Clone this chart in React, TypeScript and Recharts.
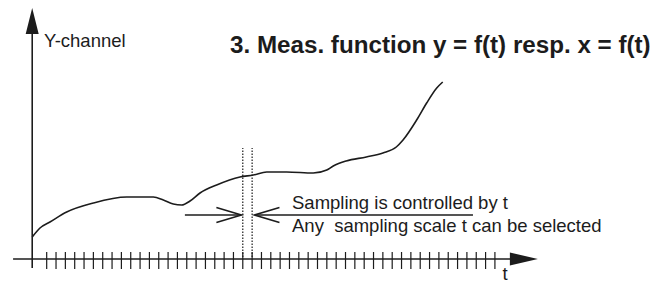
import React from 'react';
import {
    LineChart,
    Line,
    XAxis,
    YAxis,
    ReferenceLine,
    ReferenceDot,
    Customized,
} from 'recharts';

// t in sampling-step units, y in "height above the t axis"
const CURVE_T = [-1.55, -0.72, 0.35, 2.14, 4.99, 8.57, 11.42, 12.49, 13.56, 14.46, 15.35, 16.42, 18.2, 20.7, 22.12, 23.56, 25.7, 28.55, 29.99, 30.69, 32.08, 34.23, 36.01, 37.44, 38.16, 39.62, 40.69, 41.77, 42.41];
const CURVE_Y = [22, 31, 37, 47, 56, 62, 62, 59, 55, 54, 58, 66, 74, 82, 84, 87, 87, 86, 89, 93, 98, 102, 106, 112, 119, 139, 156, 171, 177];

const SAMPLE_TICKS = Array.from({ length: 49 }, (_, i) => i);
const T_DOMAIN = [-5, 66];
const Y_DOMAIN = [0, 259];

const Y_AXIS_T = -1.55;
const Y_AXIS_RANGE = [-9, 225];
const Y_ARROW_TIP = 251;
const T_AXIS_RANGE = [-3.6, 50];
const T_ARROW_TIP = 52.6;

const WINDOW_T = [21, 22];
const WINDOW_Y = [2, 111];
const ARROW_Y = 44;
const LEFT_ARROW = [14.8, 20.85];
const RIGHT_ARROW = [22.25, 45.65];

const TITLE = '3. Meas. function y = f(t) resp. x = f(t)';
const Y_LABEL = 'Y-channel';
const NOTE_1 = 'Sampling is controlled by t';
const NOTE_2 = 'Any  sampling scale t can be selected';

const data = CURVE_T.map((t, i) => ({ t, y: CURVE_Y[i] }));

const INK = '#1c1c1c';
const FONT = '"Liberation Sans", Arial, Helvetica, sans-serif';

const CrossTick = (props: any) => {
    const { x, y } = props;
    return <line x1={x} x2={x} y1={y - 7} y2={y + 10} stroke={INK} strokeWidth={1.2} />;
};

const UpHead = (props: any) => {
    const { cx, cy } = props;
    return <polygon points={`${cx},${cy} ${cx - 6.5},${cy + 26} ${cx + 6.5},${cy + 26}`} fill={INK} />;
};

const RightHead = (props: any) => {
    const { cx, cy } = props;
    return <polygon points={`${cx},${cy} ${cx - 28},${cy - 6.5} ${cx - 28},${cy + 6.5}`} fill={INK} />;
};

const OpenHeadRight = (props: any) => {
    const { cx, cy } = props;
    return <polyline points={`${cx - 25},${cy - 7.5} ${cx},${cy} ${cx - 25},${cy + 7.5}`} fill="none" stroke={INK} strokeWidth={1.6} />;
};

const OpenHeadLeft = (props: any) => {
    const { cx, cy } = props;
    return <polyline points={`${cx + 25},${cy - 7.5} ${cx},${cy} ${cx + 25},${cy + 7.5}`} fill="none" stroke={INK} strokeWidth={1.6} />;
};

const Texts = () => (
    <g fontFamily={FONT} fill={INK}>
        <text x={230} y={53} fontSize={24.2} fontWeight="bold">{TITLE}</text>
        <text x={44} y={46.5} fontSize={18.5}>{Y_LABEL}</text>
        <text x={292} y={208.5} fontSize={18.5}>{NOTE_1}</text>
        <text x={292} y={231.5} fontSize={18.5} style={{ whiteSpace: 'pre' }}>{NOTE_2}</text>
        <text x={505} y={280} fontSize={18.5} textAnchor="middle">t</text>
    </g>
);

export default function App() {
    return (
        <div style={{ position: 'absolute', left: 0, top: 0, width: 666, height: 284, background: '#fff' }}>
            <LineChart width={666} height={284} data={data} margin={{ top: 0, right: 3, bottom: 0, left: 0 }}>
                <XAxis
                    dataKey="t"
                    type="number"
                    domain={T_DOMAIN}
                    ticks={SAMPLE_TICKS}
                    interval={0}
                    height={25}
                    axisLine={false}
                    tickLine={false}
                    tickSize={0}
                    tickMargin={0}
                    tick={<CrossTick />}
                />
                <YAxis type="number" domain={Y_DOMAIN} hide />

                {/* Y axis */}
                <ReferenceLine
                    segment={[{ x: Y_AXIS_T, y: Y_AXIS_RANGE[0] }, { x: Y_AXIS_T, y: Y_AXIS_RANGE[1] }]}
                    stroke={INK}
                    strokeWidth={1.6}
                    ifOverflow="visible"
                />
                <ReferenceDot x={Y_AXIS_T} y={Y_ARROW_TIP} ifOverflow="visible" shape={<UpHead />} />

                {/* t axis */}
                <ReferenceLine
                    segment={[{ x: T_AXIS_RANGE[0], y: 0 }, { x: T_AXIS_RANGE[1], y: 0 }]}
                    stroke={INK}
                    strokeWidth={1.6}
                    ifOverflow="visible"
                />
                <ReferenceDot x={T_ARROW_TIP} y={0} ifOverflow="visible" shape={<RightHead />} />

                {/* sampling window */}
                {WINDOW_T.map((t) => (
                    <ReferenceLine
                        key={t}
                        segment={[{ x: t, y: WINDOW_Y[0] }, { x: t, y: WINDOW_Y[1] }]}
                        stroke={INK}
                        strokeWidth={1.2}
                        strokeDasharray="1.5 1.5"
                        ifOverflow="visible"
                    />
                ))}

                <ReferenceLine
                    segment={[{ x: LEFT_ARROW[0], y: ARROW_Y }, { x: LEFT_ARROW[1], y: ARROW_Y }]}
                    stroke={INK}
                    strokeWidth={1.6}
                    ifOverflow="visible"
                />
                <ReferenceDot x={LEFT_ARROW[1]} y={ARROW_Y} ifOverflow="visible" shape={<OpenHeadRight />} />
                <ReferenceLine
                    segment={[{ x: RIGHT_ARROW[0], y: ARROW_Y }, { x: RIGHT_ARROW[1], y: ARROW_Y }]}
                    stroke={INK}
                    strokeWidth={1.6}
                    ifOverflow="visible"
                />
                <ReferenceDot x={RIGHT_ARROW[0]} y={ARROW_Y} ifOverflow="visible" shape={<OpenHeadLeft />} />

                <Line
                    type="monotone"
                    dataKey="y"
                    stroke={INK}
                    strokeWidth={1.6}
                    dot={false}
                    activeDot={false}
                    legendType="none"
                    isAnimationActive={false}
                />

                <Customized component={<Texts />} />
            </LineChart>
        </div>
    );
}
